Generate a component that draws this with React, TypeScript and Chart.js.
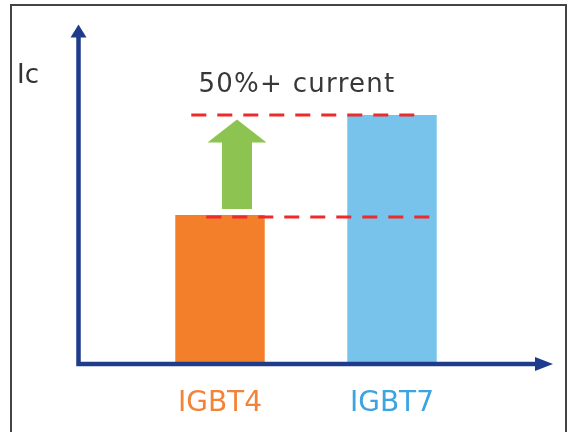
import React, { useEffect, useRef } from "react";
import { Chart, registerables } from "chart.js";

Chart.register(...registerables);

const categories = ["IGBT4", "IGBT7"];
const currentValues = [100, 168];
const barColors = ["#F47F2A", "#77C3EC"];
const labelColors = ["#F2843A", "#3DA4E0"];
const annotationText = "50%+ current";
const yAxisTitle = "Ic";
const yMax = 220;

const FONT = "'DejaVu Sans', sans-serif";
const AXIS_COLOR = "#1F3C8C";
const DASH_COLOR = "#EE2A2A";
const ARROW_COLOR = "#8DC351";

const overlayPlugin = {
  id: "overlay",
  beforeDraw(chart: any) {
    const ctx = chart.ctx;
    ctx.save();
    ctx.fillStyle = "#ffffff";
    ctx.fillRect(0, 0, chart.width, chart.height);
    ctx.strokeStyle = "#444444";
    ctx.lineWidth = 2;
    ctx.strokeRect(11, 5, 555, 440);
    ctx.restore();
  },
  afterDatasetsDraw(chart: any) {
    const ctx = chart.ctx;
    const area = chart.chartArea;
    const meta = chart.getDatasetMeta(0);
    const b0 = meta.data[0];
    const b1 = meta.data[1];
    const w0 = b0.width;
    const w1 = b1.width;
    const l0 = b0.x - w0 / 2;
    const r1 = b1.x + w1 / 2;
    const yLow = b0.y;
    const yHigh = b1.y;

    ctx.save();
    // axes
    const ax = area.left;
    const ay = area.bottom + 2;
    ctx.strokeStyle = AXIS_COLOR;
    ctx.fillStyle = AXIS_COLOR;
    ctx.lineWidth = 4.5;
    ctx.lineJoin = "miter";
    ctx.lineCap = "butt";
    ctx.beginPath();
    ctx.moveTo(ax, area.top - 2);
    ctx.lineTo(ax, ay);
    ctx.lineTo(area.right, ay);
    ctx.stroke();
    // y arrow head
    ctx.beginPath();
    ctx.moveTo(ax, area.top - 14);
    ctx.lineTo(ax + 8, area.top - 1);
    ctx.lineTo(ax - 8, area.top - 1);
    ctx.closePath();
    ctx.fill();
    // x arrow head
    ctx.beginPath();
    ctx.moveTo(area.right + 17, ay);
    ctx.lineTo(area.right - 1, ay - 7);
    ctx.lineTo(area.right - 1, ay + 7);
    ctx.closePath();
    ctx.fill();

    // dashed lines
    ctx.strokeStyle = DASH_COLOR;
    ctx.lineWidth = 3;
    ctx.setLineDash([15, 11]);
    ctx.beginPath();
    ctx.moveTo(l0 + 16, yHigh);
    ctx.lineTo(r1 - 16, yHigh);
    ctx.stroke();
    ctx.beginPath();
    ctx.moveTo(l0 + 31, yLow + 2);
    ctx.lineTo(r1 - 1, yLow + 2);
    ctx.stroke();
    ctx.setLineDash([]);

    // green arrow
    const cx = b0.x + 17;
    const tip = yHigh + 4.5;
    const headBase = tip + 23;
    const bottom = yLow - 6;
    ctx.fillStyle = ARROW_COLOR;
    ctx.beginPath();
    ctx.moveTo(cx, tip);
    ctx.lineTo(cx + 29.5, headBase);
    ctx.lineTo(cx + 15, headBase);
    ctx.lineTo(cx + 15, bottom);
    ctx.lineTo(cx - 15, bottom);
    ctx.lineTo(cx - 15, headBase);
    ctx.lineTo(cx - 29.5, headBase);
    ctx.closePath();
    ctx.fill();

    // texts
    ctx.fillStyle = "#383838";
    ctx.font = `26px ${FONT}`;
    ctx.textBaseline = "alphabetic";
    (ctx as any).letterSpacing = "1.3px";
    ctx.textAlign = "center";
    ctx.fillText(annotationText, (b0.x + b1.x) / 2 - 9, yHigh - 23.5);
    (ctx as any).letterSpacing = "0px";
    ctx.textAlign = "left";
    ctx.fillStyle = "#333333";
    ctx.font = `26px ${FONT}`;
    ctx.fillText(yAxisTitle, 17, 83);
    ctx.restore();
  },
};

export default function App() {
  const ref = useRef<HTMLCanvasElement | null>(null);
  useEffect(() => {
    if (!ref.current) return;
    const pxPerUnit = 172;
    const chart = new Chart(ref.current, {
      type: "bar",
      data: {
        datasets: [
          {
            data: currentValues.map((v, i) => ({ x: i, y: v })),
            backgroundColor: barColors,
            borderWidth: 0,
            barPercentage: 0.52,
            categoryPercentage: 1,
          },
        ],
      },
      options: {
        responsive: false,
        animation: false,
        devicePixelRatio: 1,
        layout: { padding: { left: 78.5, right: 35, top: 38.6, bottom: 0 } },
        plugins: { legend: { display: false }, tooltip: { enabled: false } },
        scales: {
          x: {
            type: "linear",
            offset: false,
            min: -(220 - 78.5) / pxPerUnit,
            max: 1 + (536 - 392) / pxPerUnit,
            grid: { display: false, drawTicks: false },
            border: { display: false },
            afterBuildTicks: (axis: any) => {
              axis.ticks = categories.map((_, i) => ({ value: i }));
            },
            afterFit: (axis: any) => {
              axis.height = 70;
            },
            ticks: {
              padding: 25,
              maxRotation: 0,
              autoSkip: false,
              font: { family: FONT, size: 28 },
              color: (c: any) => labelColors[c.index] ?? "#333",
              callback: (v: any) => categories[v as number] ?? "",
            },
          },
          y: {
            display: false,
            min: 0,
            max: yMax,
          },
        },
      },
      plugins: [overlayPlugin],
    } as any);
    return () => chart.destroy();
  }, []);
  return (
    <div style={{ position: "absolute", left: 0, top: 0, width: 571, height: 432 }}>
      <canvas ref={ref} width={571} height={432} />
    </div>
  );
}
